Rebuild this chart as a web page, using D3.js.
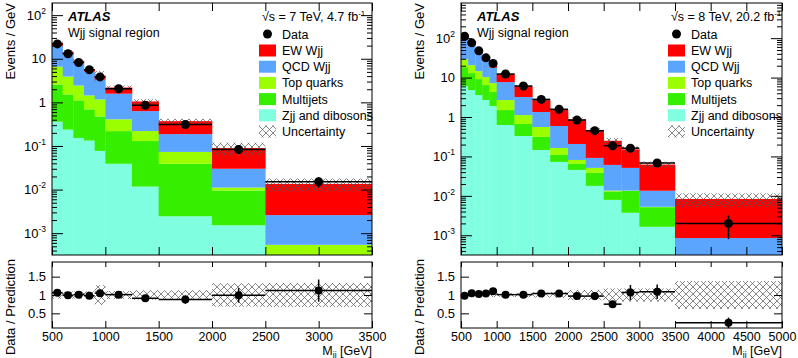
<!DOCTYPE html>
<html>
<head>
<meta charset="utf-8" />
<title>Wjj signal region</title>
<script src="https://cdnjs.cloudflare.com/ajax/libs/d3/7.8.5/d3.min.js"></script>
<style>
  body { margin: 0; background: #fff; }
  svg { display: block; font-family: "Liberation Sans", Arial, sans-serif; }
</style>
</head>
<body>
<svg id="chart" width="798" height="358"></svg>
<script>
// ---- 7 TeV panel ----
const edges7 = [500, 600, 700, 800, 900, 1000, 1250, 1500, 2000, 2500, 3500]
const zjj7 = [0.36, 0.237, 0.152, 0.133, 0.077, 0.039, 0.0117, 0.00244, 0.00152, 0.0001]
const mj7  = [2.21, 1.28, 0.96, 0.56, 0.40, 0.18, 0.118, 0.0366, 0.0080, 0.0001]
const top7 = [4.01, 2.38, 1.32, 0.75, 0.69, 0.19, 0.09, 0.034, 0.0016, 0.00034]
const qcd7 = [13.1, 9.1, 5.67, 3.63, 2.16, 1.17, 0.41, 0.114, 0.0189, 0.00206]
const ew7  = [3.4, 1.3, 0.9, 0.7, 0.78, 0.61, 0.42, 0.183, 0.060, 0.0109]
const data7 = [21.9, 13.0, 8.2, 5.6, 3.84, 2.05, 0.86, 0.31, 0.083, 0.0151]
const dataErr7 = [0.04, 0.05, 0.06, 0.08, 0.09, 0.07, 0.10, 0.13, 0.2, 0.27]
const ratio7 = [1.06, 0.99, 1.01, 0.98, 1.05, 1.01, 0.91, 0.875, 0.99, 1.12]
const unc7 = [0.1, 0.1, 0.1, 0.1, 0.27, 0.11, 0.13, 0.13, 0.32, 0.33]

// ---- 8 TeV panel ----
const edges8 = [500, 600, 700, 800, 900, 1000, 1250, 1500, 1750, 2000, 2250, 2500, 2750, 3000, 3500, 5000]
const zjj8 = [6.1, 4.83, 3.61, 2.69, 1.9, 0.627, 0.33, 0.146, 0.0726, 0.0455, 0.0179, 0.0079, 0.00372, 0.00164, 0.0001]
const mj8  = [12.3, 8.17, 5.56, 3.77, 2.4, 0.873, 0.335, 0.166, 0.0364, 0.0191, 0.0203, 0.0051, 0.00968, 0.00353, 0.0001]
const top8 = [11.0, 7.7, 5.43, 3.84, 2.96, 1.19, 0.455, 0.246, 0.055, 0.0169, 0.013, 0.0006, 0.0002, 0.0001, 0.0001]
const qcd8 = [72.6, 44.3, 26.2, 16.2, 10.5, 5.0, 2.09, 0.782, 0.428, 0.1255, 0.0405, 0.0473, 0.0376, 0.0082, 0.00055]
const ew8  = [12, 8, 5.5, 4, 3, 4.5, 2.83, 1.35, 0.918, 0.659, 0.372, 0.189, 0.0998, 0.0488, 0.0075]
const data8 = [112, 76, 47.7, 31.7, 22.9, 12.3, 6.1, 2.8, 1.57, 0.84, 0.45, 0.187, 0.162, 0.068, 0.002]
const dataErr8 = [0.02, 0.02, 0.03, 0.03, 0.04, 0.04, 0.05, 0.06, 0.07, 0.09, 0.1, 0.1, 0.19, 0.18, 0.6]
const ratio8 = [0.98, 1.05, 1.03, 1.04, 1.1, 1.01, 1.01, 1.04, 1.04, 0.97, 0.97, 0.75, 1.07, 1.09, 0.24]
const unc8 = [0.05, 0.05, 0.05, 0.05, 0.06, 0.05, 0.06, 0.07, 0.08, 0.14, 0.14, 0.18, 0.18, 0.18, 0.38]

const keys = ['zjj', 'mj', 'top', 'qcd', 'ew']
const colors = { ew: '#ff0000', qcd: '#5ca5ff', top: '#9cff00', mj: '#36ee00', zjj: '#80ffe0' }
const legendRows = [
  ['ew', 'EW Wjj'], ['qcd', 'QCD Wjj'], ['top', 'Top quarks'],
  ['mj', 'Multijets'], ['zjj', 'Zjj and dibosons']
]

const svg = d3.select('#chart')
const defs = svg.append('defs')
defs.append('pattern').attr('id', 'hatch').attr('patternUnits', 'userSpaceOnUse')
  .attr('width', 7).attr('height', 7)
  .append('path').attr('d', 'M0,0L7,7M7,0L0,7M-1,6L1,8M6,-1L8,1')
  .attr('stroke', '#555').attr('stroke-width', 0.7).attr('fill', 'none')

function logLabel(text) {
  text.each(function(d) {
    const e = Math.round(Math.log10(d))
    const t = d3.select(this).text(null)
    if (e === 0) { t.text('1'); return }
    if (e === 1) { t.text('10'); return }
    t.append('tspan').text('10')
    t.append('tspan').attr('dy', -6).attr('font-size', 8.5).text(e)
  })
}

function panel(p) {
  const g = svg.append('g')
  const x = d3.scaleLinear().domain(p.xdom).range([p.x0, p.x1])
  const y = d3.scaleLog().domain(p.ydom).range([255, 3]).clamp(true)
  const yr = d3.scaleLinear().domain([0.1, 1.9]).range([328, 262])

  const rows = p.edges.slice(0, -1).map((lo, i) => ({
    lo: lo, hi: p.edges[i + 1],
    zjj: p.zjj[i], mj: p.mj[i], top: p.top[i], qcd: p.qcd[i], ew: p.ew[i],
    data: p.data[i], derr: p.dataErr[i], ratio: p.ratio[i], unc: p.unc[i]
  }))
  rows.forEach(r => { r.total = keys.reduce((s, k) => s + r[k], 0) })
  const stacked = d3.stack().keys(keys)(rows)

  const clipId = 'clip' + p.id
  defs.append('clipPath').attr('id', clipId)
    .append('rect').attr('x', p.x0).attr('y', 3).attr('width', p.x1 - p.x0).attr('height', 252)
  const plot = g.append('g').attr('clip-path', 'url(#' + clipId + ')')

  stacked.forEach(layer => {
    plot.selectAll(null).data(layer).enter().append('rect')
      .attr('x', d => x(d.data.lo))
      .attr('width', d => x(d.data.hi) - x(d.data.lo) + 0.3)
      .attr('y', d => y(Math.max(d[1], 1e-7)))
      .attr('height', d => y(Math.max(d[0], 1e-7)) - y(Math.max(d[1], 1e-7)))
      .attr('fill', colors[layer.key])
  })

  // uncertainty band on the total
  plot.selectAll(null).data(rows).enter().append('rect')
    .attr('x', d => x(d.lo)).attr('width', d => x(d.hi) - x(d.lo))
    .attr('y', d => y(d.total * (1 + d.unc)))
    .attr('height', d => y(d.total * (1 - d.unc)) - y(d.total * (1 + d.unc)))
    .attr('fill', 'url(#hatch)')

  // data with error bars
  plot.selectAll(null).data(rows).enter().append('line')
    .attr('x1', d => x(d.lo)).attr('x2', d => x(d.hi))
    .attr('y1', d => y(d.data)).attr('y2', d => y(d.data))
    .attr('stroke', '#000').attr('stroke-width', 1.5)
  plot.selectAll(null).data(rows).enter().append('line')
    .attr('x1', d => x((d.lo + d.hi) / 2)).attr('x2', d => x((d.lo + d.hi) / 2))
    .attr('y1', d => y(d.data * (1 + d.derr))).attr('y2', d => y(d.data * (1 - d.derr)))
    .attr('stroke', '#000').attr('stroke-width', 1.5)
  plot.selectAll(null).data(rows).enter().append('circle')
    .attr('cx', d => x((d.lo + d.hi) / 2)).attr('cy', d => y(d.data)).attr('r', 4.5)

  // ratio panel
  const rp = g.append('g')
  rp.selectAll(null).data(rows).enter().append('rect')
    .attr('x', d => x(d.lo)).attr('width', d => x(d.hi) - x(d.lo))
    .attr('y', d => yr(1 + d.unc)).attr('height', d => yr(1 - d.unc) - yr(1 + d.unc))
    .attr('fill', 'url(#hatch)')
  rp.selectAll(null).data(rows).enter().append('line')
    .attr('x1', d => x(d.lo)).attr('x2', d => x(d.hi))
    .attr('y1', d => yr(d.ratio)).attr('y2', d => yr(d.ratio))
    .attr('stroke', '#000').attr('stroke-width', 1.5)
  rp.selectAll(null).data(rows).enter().append('line')
    .attr('x1', d => x((d.lo + d.hi) / 2)).attr('x2', d => x((d.lo + d.hi) / 2))
    .attr('y1', d => yr(d.ratio * (1 + d.derr))).attr('y2', d => yr(d.ratio * (1 - d.derr)))
    .attr('stroke', '#000').attr('stroke-width', 1.5)
  rp.selectAll(null).data(rows).enter().append('circle')
    .attr('cx', d => x((d.lo + d.hi) / 2)).attr('cy', d => yr(d.ratio)).attr('r', 4)

  // axes: ticks point inward, frame drawn separately
  const xt = d3.range(p.xdom[0], p.xdom[1] + 1, 500)
  const decades = d3.range(-3, Math.floor(Math.log10(p.ydom[1])) + 1).map(e => Math.pow(10, e))
  const minors = y.ticks().filter(v => !decades.some(m => Math.abs(v / m - 1) < 1e-6))

  const ax = (gen, tr) => g.append('g').attr('transform', tr).call(gen)
    .call(s => s.select('.domain').remove())
    .call(s => s.selectAll('line').attr('stroke', '#000'))
  ax(d3.axisBottom(x).tickValues(xt).tickSize(-8).tickFormat(''), 'translate(0,255)')
  ax(d3.axisTop(x).tickValues(xt).tickSize(-8).tickFormat(''), 'translate(0,3)')
  ax(d3.axisTop(x).tickValues(xt).tickSize(-5).tickFormat(''), 'translate(0,262)')
  const xb = ax(d3.axisBottom(x).tickValues(xt).tickSize(-7).tickPadding(4).tickFormat(d3.format('d')), 'translate(0,328)')
  xb.selectAll('text').attr('font-size', 12.5).attr('fill', '#000')

  const yl = ax(d3.axisLeft(y).tickValues(decades).tickSize(-11).tickPadding(6), `translate(${p.x0},0)`)
  yl.selectAll('text').attr('font-size', 13).attr('fill', '#000').call(logLabel)
  ax(d3.axisLeft(y).tickValues(minors).tickSize(-5).tickFormat(''), `translate(${p.x0},0)`)
  ax(d3.axisRight(y).tickValues(decades).tickSize(-11).tickFormat(''), `translate(${p.x1},0)`)
  ax(d3.axisRight(y).tickValues(minors).tickSize(-5).tickFormat(''), `translate(${p.x1},0)`)

  const rt = [0.5, 1, 1.5]
  const yrl = ax(d3.axisLeft(yr).tickValues(rt).tickSize(-8).tickPadding(6).tickFormat(d3.format('')), `translate(${p.x0},0)`)
  yrl.selectAll('text').attr('font-size', 13).attr('fill', '#000')
  ax(d3.axisRight(yr).tickValues(rt).tickSize(-8).tickFormat(''), `translate(${p.x1},0)`)

  g.append('rect').attr('x', p.x0).attr('y', 3).attr('width', p.x1 - p.x0).attr('height', 252)
    .attr('fill', 'none').attr('stroke', '#000')
  g.append('rect').attr('x', p.x0).attr('y', 262).attr('width', p.x1 - p.x0).attr('height', 66)
    .attr('fill', 'none').attr('stroke', '#000')

  // axis titles
  g.append('text').attr('transform', `translate(${p.x0 - 37},3) rotate(-90)`)
    .attr('text-anchor', 'end').attr('font-size', 13).text('Events / GeV')
  g.append('text').attr('transform', `translate(${p.x0 - 37},259) rotate(-90)`)
    .attr('text-anchor', 'end').attr('font-size', 13).text('Data / Prediction')
  const xtitle = g.append('text').attr('x', p.x1).attr('y', 355).attr('text-anchor', 'end').attr('font-size', 12.5)
  xtitle.append('tspan').text('M')
  xtitle.append('tspan').attr('dy', 2.5).attr('font-size', 8.5).text('jj')
  xtitle.append('tspan').attr('dy', -2.5).text(' [GeV]')

  // labels
  g.append('text').attr('x', p.x0 + 16).attr('y', 21).attr('font-size', 13)
    .attr('font-weight', 'bold').attr('font-style', 'italic').text('ATLAS')
  g.append('text').attr('x', p.x0 + 16).attr('y', 37).attr('font-size', 12.5).text('Wjj signal region')
  const rs = g.append('text').attr('x', p.x0 + 210).attr('y', 21).attr('font-size', 12.5)
  rs.append('tspan').text('\u221As = ' + p.energy + ', ' + p.lumi + ' fb')
  rs.append('tspan').attr('dy', -5).attr('font-size', 8).text('-1')

  // legend
  const lx = p.x0 + 207, tx = p.x0 + 230
  const lg = g.append('g').attr('font-size', 12.5)
  lg.append('circle').attr('cx', lx + 8.5).attr('cy', 34).attr('r', 4.5)
  lg.append('text').attr('x', tx).attr('y', 38.5).text('Data')
  legendRows.forEach((r, i) => {
    const cy = 50.5 + i * 16.2
    lg.append('rect').attr('x', lx).attr('y', cy - 6).attr('width', 17).attr('height', 12).attr('fill', colors[r[0]])
    lg.append('text').attr('x', tx).attr('y', cy + 4.5).text(r[1])
  })
  const uy = 50.5 + 5 * 16.2
  lg.append('rect').attr('x', lx).attr('y', uy - 6).attr('width', 17).attr('height', 12).attr('fill', 'url(#hatch)')
  lg.append('text').attr('x', tx).attr('y', uy + 4.5).text('Uncertainty')
}

panel({ id: 7, x0: 52, x1: 372, xdom: [500, 3500], ydom: [3.16e-4, 190],
  edges: edges7, zjj: zjj7, mj: mj7, top: top7, qcd: qcd7, ew: ew7,
  data: data7, dataErr: dataErr7, ratio: ratio7, unc: unc7, energy: '7 TeV', lumi: '4.7' })
panel({ id: 8, x0: 461, x1: 782, xdom: [500, 5000], ydom: [3.16e-4, 780],
  edges: edges8, zjj: zjj8, mj: mj8, top: top8, qcd: qcd8, ew: ew8,
  data: data8, dataErr: dataErr8, ratio: ratio8, unc: unc8, energy: '8 TeV', lumi: '20.2' })
</script>
</body>
</html>
